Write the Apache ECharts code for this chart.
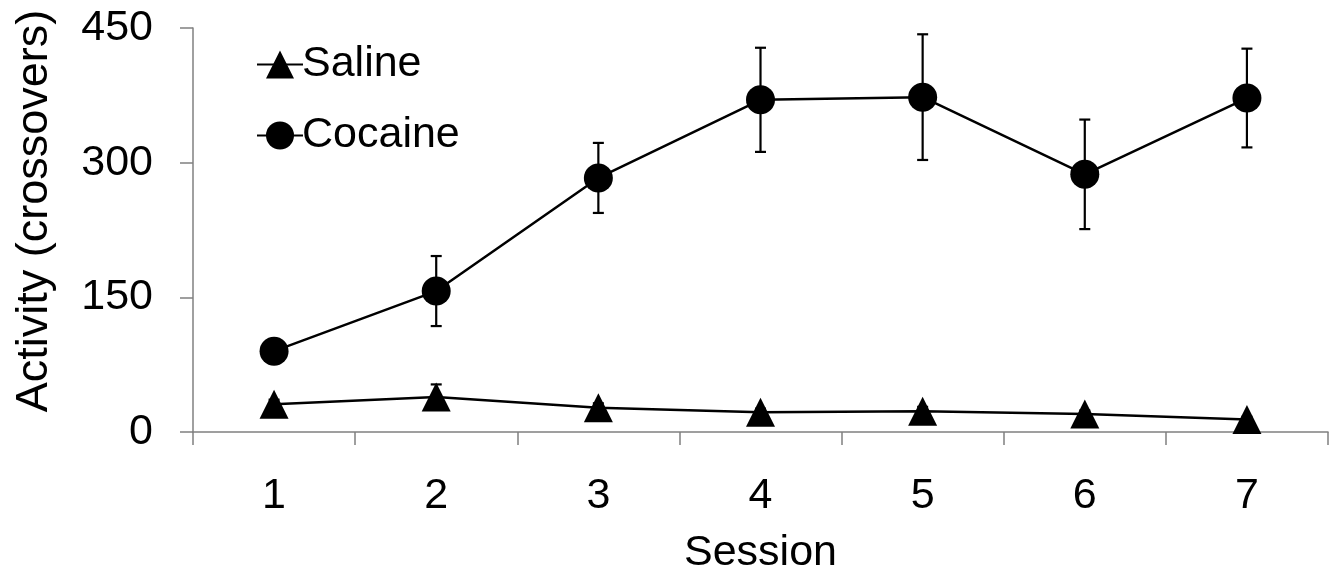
<!DOCTYPE html>
<html>
<head>
<meta charset="utf-8">
<style>html,body{margin:0;padding:0;background:#fff;}#c{width:1342px;height:582px;}</style>
<script src="https://cdn.jsdelivr.net/npm/echarts@6/dist/echarts.min.js"></script>
</head>
<body>
<div id="c"></div>
<script>
var sessions = ['1','2','3','4','5','6','7'];
var salineMean = [31, 39, 27, 22, 23, 20, 14];
var salineErr = [5, 14, 5, 4, 5, 4, 3];
var cocaineMean = [90, 157, 283, 370, 373, 287, 372];
var cocaineErr = [8, 39, 39, 58, 70, 61, 55];
var yTicks = [0, 150, 300, 450];

var FONT = 'Liberation Sans, Arial, sans-serif';
var chart = echarts.init(document.getElementById('c'));

function errData(mean, err) {
  return mean.map(function (m, i) { return [i, m - err[i], m + err[i]]; });
}
function errRender(params, api) {
  var x = api.value(0);
  var lo = api.coord([x, api.value(1)]);
  var hi = api.coord([x, api.value(2)]);
  var w = 5.5;
  var st = { stroke: '#000', lineWidth: 2.2 };
  return {
    type: 'group',
    children: [
      { type: 'line', shape: { x1: lo[0], y1: lo[1], x2: hi[0], y2: hi[1] }, style: st },
      { type: 'line', shape: { x1: lo[0] - w, y1: lo[1], x2: lo[0] + w, y2: lo[1] }, style: st },
      { type: 'line', shape: { x1: hi[0] - w, y1: hi[1], x2: hi[0] + w, y2: hi[1] }, style: st }
    ]
  };
}

chart.setOption({
  animation: false,
  backgroundColor: '#fff',
  textStyle: { fontFamily: FONT },
  grid: { left: 193, right: 14, top: 28, bottom: 150, containLabel: false },
  legend: {
    orient: 'vertical',
    left: 251,
    top: 38,
    itemWidth: 46,
    itemHeight: 35,
    itemGap: 28,
    data: ['Saline', 'Cocaine'],
    textStyle: { fontFamily: FONT, fontSize: 43, color: '#000', padding: [0, 0, 0, -6] },
    selectedMode: false
  },
  xAxis: {
    type: 'category',
    data: sessions,
    boundaryGap: true,
    name: 'Session',
    nameLocation: 'middle',
    nameGap: 100,
    nameTextStyle: { fontFamily: FONT, fontSize: 43, color: '#000' },
    axisLine: { lineStyle: { color: '#808080', width: 1.5 } },
    axisTick: { show: true, length: 13, inside: false, lineStyle: { color: '#808080', width: 1.5 } },
    axisLabel: { margin: 43, fontFamily: FONT, fontSize: 43, color: '#000' },
    splitLine: { show: false }
  },
  yAxis: {
    type: 'value',
    min: yTicks[0],
    max: yTicks[yTicks.length - 1],
    interval: yTicks[1] - yTicks[0],
    axisLine: { show: true, lineStyle: { color: '#808080', width: 1.5 } },
    axisTick: { show: true, length: 13, lineStyle: { color: '#808080', width: 1.5 } },
    axisLabel: { margin: 40, fontFamily: FONT, fontSize: 43, color: '#000' },
    splitLine: { show: false }
  },
  graphic: [{
    type: 'text',
    x: 35,
    y: 211,
    rotation: Math.PI / 2,
    style: {
      text: 'Activity (crossovers)',
      fontFamily: FONT,
      fontSize: 45,
      fill: '#000',
      align: 'center',
      verticalAlign: 'middle'
    }
  }],
  series: [
    {
      type: 'custom',
      name: 'salineErr',
      data: errData(salineMean, salineErr),
      renderItem: errRender,
      z: 1,
      silent: true
    },
    {
      type: 'custom',
      name: 'cocaineErr',
      data: errData(cocaineMean, cocaineErr),
      renderItem: errRender,
      z: 1,
      silent: true
    },
    {
      name: 'Saline',
      type: 'line',
      data: salineMean,
      symbol: 'triangle',
      symbolSize: 29,
      itemStyle: { color: '#000' },
      lineStyle: { color: '#000', width: 2.5 },
      z: 3
    },
    {
      name: 'Cocaine',
      type: 'line',
      data: cocaineMean,
      symbol: 'circle',
      symbolSize: 29,
      itemStyle: { color: '#000' },
      lineStyle: { color: '#000', width: 2.5 },
      z: 3
    }
  ]
});
</script>
</body>
</html>
